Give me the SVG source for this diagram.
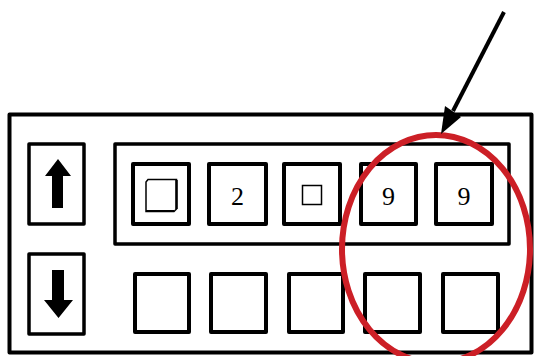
<svg xmlns="http://www.w3.org/2000/svg" width="534" height="356" viewBox="0 0 534 356">
<style>
.box{fill:#fff;stroke:#000;stroke-width:4;stroke-linejoin:round}
.thin{fill:none;stroke:#000;stroke-width:1.5}
.lbl{font-family:"Liberation Serif","Times New Roman",serif;font-size:26px;fill:#000;text-anchor:middle}
</style>
<rect width="534" height="356" fill="#fff"/>
<g id="panel"><rect x="9.5" y="114.5" width="522" height="238" class="box" stroke-width="4.5"/></g>
<g id="up-button">
<rect x="29" y="144" width="55" height="80" class="box" style="stroke-width:3.5"/>
<polygon points="58,159 71,176 63,176 63,208 52,208 52,176 45,176" fill="#000"/>
</g>
<g id="down-button">
<rect x="29" y="254" width="55" height="80" class="box" style="stroke-width:3.5"/>
<polygon points="52,270 64,270 64,300 73,300 58.5,318 44,300 52,300" fill="#000"/>
</g>
<g id="top-row"><rect x="115" y="144" width="394" height="100" class="box" style="stroke-width:3.5"/></g>
<g id="cell-t1">
<rect x="133" y="164" width="56" height="60" class="box"/>
<path d="M148,179.5 L176.5,179.5 L176.5,209 L174,211.5 L146,211.5 L146,182 Z" class="thin"/>
<path d="M176.5,180 L176.5,209" stroke="#000" stroke-width="2.5"/>
<path d="M146,211 L174,211" stroke="#000" stroke-width="2"/>
</g>
<g id="cell-t2"><rect x="209" y="164" width="57" height="60" class="box"/><text x="237.5" y="205" class="lbl">2</text></g>
<g id="cell-t3"><rect x="284" y="164" width="56" height="60" class="box"/><rect x="302.5" y="185.5" width="19" height="19" class="thin"/></g>
<g id="cell-t4"><rect x="361" y="164" width="55" height="60" class="box"/><text x="388.5" y="205" class="lbl">9</text></g>
<g id="cell-t5"><rect x="436" y="164" width="56" height="60" class="box"/><text x="464" y="205" class="lbl">9</text></g>
<g id="cell-b1"><rect x="135" y="274" width="54" height="58" class="box"/></g>
<g id="cell-b2"><rect x="211" y="274" width="55" height="58" class="box"/></g>
<g id="cell-b3"><rect x="289" y="274" width="54" height="58" class="box"/></g>
<g id="cell-b4"><rect x="365" y="274" width="55" height="58" class="box"/></g>
<g id="cell-b5"><rect x="443" y="274" width="55" height="58" class="box"/></g>
<g id="highlight"><ellipse cx="436" cy="249" rx="94" ry="114" fill="none" stroke="#cc1f26" stroke-width="6"/></g>
<g id="connectors">
<line x1="504" y1="12" x2="453" y2="111" stroke="#000" stroke-width="4"/>
<polygon points="441,134 445,106 461,117" fill="#000"/>
</g>
</svg>
